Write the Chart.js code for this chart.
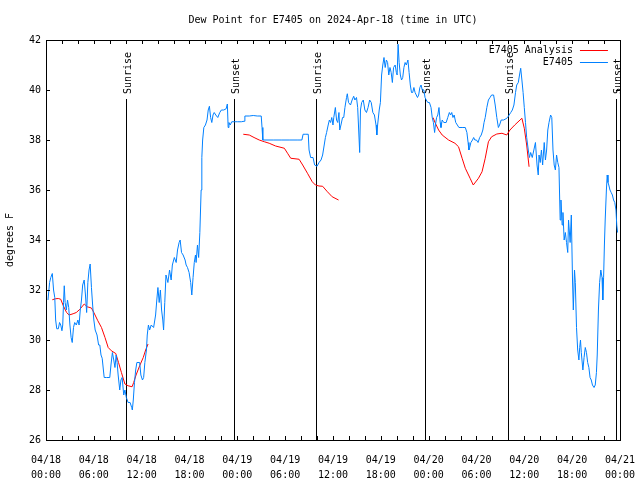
<!DOCTYPE html>
<html>
<head>
<meta charset="utf-8">
<title>Dew Point for E7405</title>
<script src="https://cdn.jsdelivr.net/npm/chart.js@4.4.1/dist/chart.umd.min.js"></script>
<style>
  html, body { margin: 0; padding: 0; background: #fff; }
  canvas { display: block; }
</style>
</head>
<body>
<canvas id="dewChart" width="640" height="480"></canvas>
<script>
// hours since 2024-04-18 00:00 UTC
const obsHours = [
  0.25, 0.45, 0.6, 0.79, 0.95, 1.1, 1.21, 1.35, 1.55, 1.7, 1.85, 2.0, 2.1, 2.2, 2.29, 2.4, 2.55, 2.7, 2.85, 3.0,
  3.15, 3.29, 3.45, 3.6, 3.8, 4.0, 4.15, 4.3, 4.45, 4.6, 4.79, 4.95, 5.1, 5.25, 5.4, 5.54, 5.7, 5.85, 6.0, 6.17,
  6.4, 6.6, 6.75, 6.9, 7.05, 7.2, 7.3, 7.6, 8.0, 8.15, 8.33, 8.5, 8.65, 8.8, 8.92, 9.05, 9.25, 9.4, 9.55, 9.75,
  9.9, 10.08, 10.3, 10.55, 10.75, 10.83, 10.95, 11.1, 11.25, 11.4, 11.75, 11.9, 12.1, 12.25, 12.4, 12.6, 12.7, 12.85, 13.0, 13.2,
  13.5, 13.75, 13.9, 14.04, 14.2, 14.35, 14.5, 14.65, 14.75, 14.9, 15.05, 15.29, 15.5, 15.7, 15.85, 16.1, 16.33, 16.5, 16.7, 16.83,
  17.0, 17.2, 17.45, 17.58, 17.75, 17.95, 18.15, 18.29, 18.45, 18.6, 18.75, 18.83, 19.0, 19.15, 19.3, 19.46, 19.55, 19.65, 19.8, 20.0,
  20.2, 20.35, 20.5, 20.65, 20.8, 20.95, 21.1, 21.3, 21.55, 21.8, 22.0, 22.3, 22.6, 22.75, 22.85, 22.95, 23.1, 23.3, 23.6, 24.0,
  24.5, 24.85, 24.95, 25.5, 26.0, 26.5, 27.0, 27.1, 27.2, 27.6, 28.5, 29.5, 30.5, 31.5, 32.1, 32.25, 32.6, 32.9, 33.0, 33.2,
  33.5, 33.7, 34.0, 34.25, 34.5, 34.7, 34.9, 35.05, 35.2, 35.4, 35.55, 35.7, 35.85, 36.0, 36.1, 36.3, 36.45, 36.6, 36.75, 36.85,
  37.0, 37.2, 37.35, 37.5, 37.7, 37.8, 37.95, 38.2, 38.4, 38.6, 38.75, 38.95, 39.1, 39.35, 39.45, 39.6, 39.8, 40.0, 40.2, 40.4,
  40.6, 40.8, 41.0, 41.2, 41.4, 41.5, 41.6, 41.8, 41.95, 42.1, 42.25, 42.4, 42.55, 42.7, 42.85, 43.0, 43.15, 43.3, 43.45, 43.6,
  43.8, 43.95, 44.05, 44.17, 44.3, 44.45, 44.6, 44.75, 44.9, 45.05, 45.2, 45.4, 45.55, 45.7, 45.85, 46.0, 46.15, 46.3, 46.45, 46.6,
  46.75, 46.9, 47.05, 47.2, 47.4, 47.55, 47.7, 47.9, 48.1, 48.3, 48.45, 48.6, 48.75, 48.85, 49.0, 49.15, 49.3, 49.45, 49.55, 49.7,
  49.9, 50.2, 50.4, 50.6, 50.75, 50.9, 51.05, 51.2, 51.4, 51.6, 51.8, 52.2, 52.6, 52.8, 52.95, 53.05, 53.15, 53.3, 53.5, 53.65,
  53.8, 54.0, 54.2, 54.4, 54.6, 54.8, 54.95, 55.1, 55.3, 55.5, 55.7, 55.9, 56.15, 56.35, 56.55, 56.75, 56.9, 57.1, 57.4, 57.7,
  57.9, 58.1, 58.3, 58.5, 58.7, 58.9, 59.05, 59.25, 59.4, 59.55, 59.7, 59.85, 60.0, 60.15, 60.3, 60.5, 60.65, 60.8, 61.0, 61.2,
  61.4, 61.6, 61.75, 61.85, 62.0, 62.15, 62.3, 62.5, 62.65, 62.8, 62.95, 63.1, 63.3, 63.45, 63.6, 63.75, 63.9, 64.05, 64.2, 64.35,
  64.5, 64.6, 64.75, 64.85, 65.0, 65.15, 65.3, 65.45, 65.55, 65.75, 65.9, 66.05, 66.15, 66.3, 66.4, 66.55, 66.7, 66.85, 66.95, 67.05,
  67.15, 67.35, 67.5, 67.65, 67.8, 67.95, 68.1, 68.25, 68.4, 68.55, 68.75, 68.9, 69.05, 69.15, 69.3, 69.45, 69.6, 69.75, 69.85, 69.95,
  70.05, 70.15, 70.3, 70.4, 70.5, 70.6, 70.75, 70.9, 71.05, 71.2, 71.35, 71.5, 71.6, 71.7
];
const obsDew = [
  31.6, 32.3, 32.5, 32.66, 32.0, 31.7, 30.8, 30.45, 30.45, 30.7, 30.6, 30.37, 30.6, 31.5, 32.17, 31.5, 31.2, 31.6, 31.3, 30.6,
  30.1, 29.9, 30.5, 30.7, 30.6, 30.8, 30.6, 31.2, 31.6, 32.2, 32.4, 31.8, 31.1, 32.3, 32.8, 33.04, 32.1, 31.4, 30.8, 30.4,
  30.2, 29.8, 29.8, 29.4, 29.27, 28.8, 28.5, 28.5, 28.5, 29.0, 29.5, 29.2, 28.9, 29.4, 29.1, 28.6, 28.0, 28.4, 28.5, 27.8,
  28.0, 27.7, 27.5, 27.5, 27.3, 27.2, 27.6, 28.3, 28.8, 29.1, 29.1, 28.6, 28.4, 28.5, 29.1, 29.6, 30.2, 30.6, 30.4, 30.6,
  30.5, 31.0, 31.6, 32.1, 31.5, 32.0, 31.2, 30.8, 30.4, 31.5, 32.6, 32.3, 32.8, 32.4, 33.0, 33.3, 33.1, 33.6, 33.9, 34.0,
  33.5, 33.4, 33.2, 33.0, 32.9, 32.7, 32.3, 31.8, 32.5, 33.1, 33.4, 33.1, 33.8, 33.3, 34.3, 36.0, 37.3, 38.0, 38.5, 38.6,
  38.8, 39.2, 39.35, 38.9, 38.7, 39.0, 39.1, 39.0, 38.9, 39.1, 39.2, 39.2, 39.25, 39.44, 38.5, 38.7, 38.6, 38.73, 38.73, 38.73,
  38.73, 38.75, 38.96, 38.96, 38.98, 38.96, 38.96, 38.5, 38.0, 38.0, 38.0, 38.0, 38.0, 38.0, 38.0, 38.23, 38.23, 38.23, 37.6, 37.3,
  37.3, 37.0, 36.95, 37.1, 37.2, 37.4, 37.8, 38.1, 38.3, 38.6, 38.8, 38.7, 38.9, 38.6, 38.9, 39.3, 38.8, 38.7, 39.1, 38.4,
  38.6, 38.9, 38.9, 39.3, 39.7, 39.85, 39.5, 39.4, 39.6, 39.75, 39.6, 39.7, 39.3, 37.5, 39.2, 39.5, 39.6, 39.2, 39.1, 39.3,
  39.6, 39.5, 39.1, 39.0, 38.6, 38.2, 38.6, 39.2, 39.5, 40.6, 41.0, 41.3, 40.9, 41.2, 41.1, 40.6, 40.9, 40.7, 40.3, 40.9,
  41.0, 40.7, 40.6, 41.83, 41.1, 40.6, 40.4, 40.5, 40.9, 41.1, 41.0, 41.2, 40.7, 40.2, 39.9, 39.9, 40.1, 39.9, 39.8, 39.7,
  39.8, 40.1, 40.2, 40.0, 40.0, 39.7, 39.6, 39.5, 39.5, 39.3, 38.9, 38.7, 38.3, 38.6, 38.9, 39.0, 39.3, 38.7, 38.5, 38.8,
  38.7, 38.7, 38.9, 39.1, 39.0, 39.1, 38.9, 39.0, 38.7, 38.6, 38.5, 38.5, 38.5, 38.3, 37.9, 37.6, 37.7, 37.9, 38.0, 38.1,
  38.0, 38.0, 37.9, 38.1, 38.2, 38.4, 38.7, 38.9, 39.3, 39.6, 39.7, 39.8, 39.8, 39.4, 38.9, 38.5, 38.6, 38.8, 38.8, 38.85,
  38.9, 39.0, 39.1, 39.2, 39.4, 39.9, 40.2, 40.3, 40.6, 40.87, 40.4, 39.9, 39.3, 38.7, 38.1, 37.6, 37.3, 37.5, 37.3, 37.6,
  37.9, 37.0, 36.6, 37.4, 37.1, 37.6, 37.0, 37.9, 37.2, 37.6, 38.4, 38.7, 39.0, 38.9, 37.6, 37.0, 36.8, 37.4, 37.1, 36.9,
  34.8, 35.6, 34.6, 35.1, 34.0, 34.3, 33.9, 33.5, 34.8, 33.9, 35.0, 32.4, 31.2, 32.8, 32.3, 30.5, 29.6, 29.2, 29.7, 30.0,
  29.5, 28.8, 29.3, 29.7, 29.5, 29.1, 28.9, 28.5, 28.4, 28.2, 28.1, 28.2, 28.7, 29.4, 31.2, 32.3, 32.8, 32.5, 31.6, 32.5,
  33.8, 34.8, 36.0, 36.6, 36.3, 36.2, 36.0, 35.9, 35.8, 35.6, 35.5, 35.2, 34.6, 34.3
];
// analysis curve, null marks a break
const anaHours = [
  0.79, 1.2, 1.54, 1.85, 2.17, 2.58, 2.9, 3.4, 3.8, 4.25, 4.8, 5.17, 5.7, 6.0, 6.5, 6.96, 7.4, 7.8, 8.2, 8.75,
  9.1, 9.46, 9.9, 10.3, 10.8, 11.0, 11.3, 11.75, 12.2, 12.5, 12.8,
  18.0,
  24.75, 25.5, 26.1, 26.75, 27.4, 28.0, 28.8, 29.9, 30.3, 30.7, 31.75, 32.2, 32.8, 33.4, 33.8, 34.25, 34.7, 35.3, 35.9, 36.7,
  42.0,
  48.55, 48.8, 49.25, 49.7, 50.5, 51.3, 51.75, 52.2, 52.6, 53.2, 53.6, 54.25, 54.7, 55.1, 55.5, 55.9, 56.55, 57.2, 57.8, 58.2,
  58.8, 59.7, 60.0, 60.3, 60.6
];
const anaDew = [
  31.61, 31.65, 31.66, 31.63, 31.37, 31.1, 31.0, 31.05, 31.1, 31.23, 31.44, 31.33, 31.28, 31.1, 30.77, 30.5, 30.1, 29.7, 29.57, 29.46,
  29.1, 28.7, 28.24, 28.17, 28.13, 28.3, 28.6, 28.97, 29.3, 29.6, 29.84,
  null,
  38.23, 38.2, 38.1, 38.0, 37.93, 37.87, 37.76, 37.67, 37.47, 37.27, 37.23, 37.0, 36.67, 36.33, 36.2, 36.16, 36.15, 35.93, 35.73, 35.6,
  null,
  38.9, 38.7, 38.4, 38.2, 38.0, 37.87, 37.73, 37.27, 36.87, 36.47, 36.2, 36.47, 36.73, 37.27, 37.93, 38.13, 38.24, 38.27, 38.2, 38.4,
  38.6, 38.87, 38.47, 37.8, 36.93
];

const tickHours = [0, 6, 12, 18, 24, 30, 36, 42, 48, 54, 60, 66, 72];
const tickDates = ['04/18', '04/18', '04/18', '04/18', '04/19', '04/19', '04/19', '04/19', '04/20', '04/20', '04/20', '04/20', '04/21'];
const tickTimes = ['00:00', '06:00', '12:00', '18:00', '00:00', '06:00', '12:00', '18:00', '00:00', '06:00', '12:00', '18:00', '00:00'];

const sunHours = [9.98, 23.54, 33.93, 47.55, 57.92, 71.46];
const sunNames = ['Sunrise', 'Sunset', 'Sunrise', 'Sunset', 'Sunrise', 'Sunset'];

const FONT = '"DejaVu Sans Mono", monospace';
Chart.defaults.font.family = FONT;
Chart.defaults.font.size = 10;
Chart.defaults.color = '#000';

// gnuplot-like frame, inward ticks, sun markers and legend
const gnuplotBits = {
  id: 'gnuplotBits',
  beforeDatasetsDraw(chart) {
    const { ctx, chartArea, scales } = chart;
    const top = chartArea.top + 59;
    ctx.save();
    ctx.strokeStyle = '#000';
    ctx.fillStyle = '#000';
    ctx.lineWidth = 1;
    ctx.font = '10px ' + FONT;
    sunHours.forEach((h, i) => {
      const px = Math.round(scales.x.getPixelForValue(h)) + 0.5;
      ctx.beginPath();
      ctx.moveTo(px, top);
      ctx.lineTo(px, chartArea.bottom);
      ctx.stroke();
      ctx.save();
      ctx.translate(px + 2, top - 5);
      ctx.rotate(-Math.PI / 2);
      ctx.textAlign = 'left';
      ctx.textBaseline = 'middle';
      ctx.fillText(sunNames[i], 0, 0);
      ctx.restore();
    });
    ctx.restore();
  },
  afterDatasetsDraw(chart) {
    const { ctx, chartArea, scales } = chart;
    const { left, right, top, bottom } = chartArea;
    const tick = 4;
    ctx.save();
    ctx.strokeStyle = '#000';
    ctx.lineWidth = 1;
    ctx.beginPath();
    scales.x.ticks.forEach((t) => {
      const px = Math.round(scales.x.getPixelForValue(t.value)) + 0.5;
      ctx.moveTo(px, bottom);
      ctx.lineTo(px, bottom - tick);
      ctx.moveTo(px, top);
      ctx.lineTo(px, top + tick);
    });
    scales.y.ticks.forEach((t) => {
      const py = Math.round(scales.y.getPixelForValue(t.value)) + 0.5;
      ctx.moveTo(left, py);
      ctx.lineTo(left + tick, py);
      ctx.moveTo(right, py);
      ctx.lineTo(right - tick, py);
    });
    ctx.stroke();
    ctx.strokeRect(Math.round(left) + 0.5, Math.round(top) + 0.5, Math.round(right - left), Math.round(bottom - top));

    // legend, text right aligned with a line sample after it
    ctx.font = '10px ' + FONT;
    ctx.textAlign = 'right';
    ctx.textBaseline = 'middle';
    ctx.fillStyle = '#000';
    chart.data.datasets.forEach((ds, i) => {
      const y = top + 10.5 + i * 12;
      ctx.fillText(ds.label, right - 47, y);
      ctx.strokeStyle = ds.borderColor;
      ctx.beginPath();
      ctx.moveTo(right - 40, y);
      ctx.lineTo(right - 12, y);
      ctx.stroke();
    });
    ctx.restore();
  }
};

const ctx = document.getElementById('dewChart').getContext('2d');
const dewChart = new Chart(ctx, {
  type: 'line',
  data: {
    datasets: [
      {
        label: 'E7405 Analysis',
        data: anaHours.map((h, i) => ({ x: h, y: anaDew[i] })),
        borderColor: '#ff0000',
        borderWidth: 1,
        pointRadius: 0,
        spanGaps: false,
        order: 1
      },
      {
        label: 'E7405',
        data: obsHours.map((h, i) => ({ x: h, y: obsDew[i] })),
        borderColor: '#0080ff',
        borderWidth: 1,
        pointRadius: 0,
        order: 0
      }
    ]
  },
  options: {
    responsive: false,
    devicePixelRatio: 1,
    animation: false,
    layout: { padding: { left: 0, right: 18, top: 0, bottom: 0 } },
    scales: {
      x: {
        type: 'linear',
        min: 0,
        max: 72,
        grid: { display: false },
        border: { display: false },
        ticks: {
          stepSize: 2,
          autoSkip: false,
          maxRotation: 0,
          padding: 5,
          font: { size: 10, lineHeight: 1.5 },
          callback: (v) => {
            const i = tickHours.indexOf(v);
            return i >= 0 ? [tickDates[i], tickTimes[i]] : '';
          }
        },
        afterFit: (scale) => { scale.height = 40; }
      },
      y: {
        min: 26,
        max: 42,
        grid: { display: false, drawTicks: false },
        border: { display: false },
        ticks: { stepSize: 2, padding: 5 },
        title: { display: true, text: 'degrees F', padding: { top: 4, bottom: 0 } },
        afterFit: (scale) => { scale.width = 46; }
      }
    },
    plugins: {
      legend: { display: false },
      tooltip: { enabled: false },
      title: {
        display: true,
        text: 'Dew Point for E7405 on 2024-Apr-18 (time in UTC)',
        fullSize: false,
        font: { size: 10, weight: 'normal' },
        color: '#000',
        padding: { top: 14, bottom: 14 }
      }
    }
  },
  plugins: [gnuplotBits]
});
</script>
</body>
</html>
